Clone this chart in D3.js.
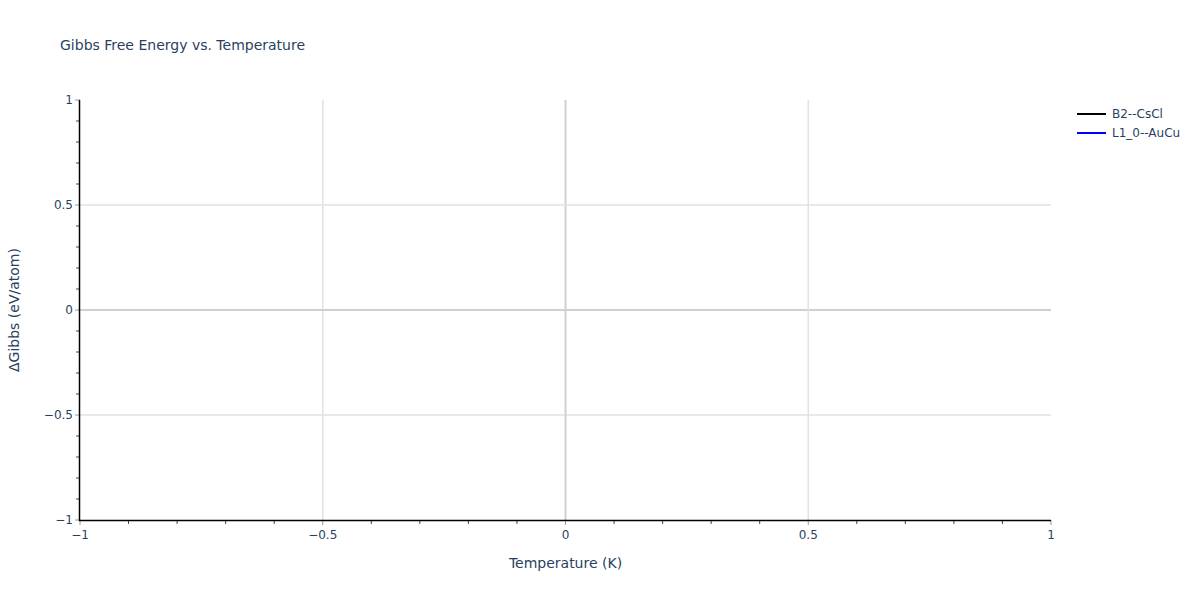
<!DOCTYPE html>
<html><head><meta charset="utf-8">
<script src="https://cdn.jsdelivr.net/npm/d3@7"></script>
<style>body{margin:0;background:#fff;} text{font-family:"DejaVu Sans",Verdana,sans-serif;}</style>
</head><body>
<svg id="c" width="1200" height="600"></svg>
<script>
const titleText = "Gibbs Free Energy vs. Temperature";
const xTitle = "Temperature (K)";
const yTitle = "ΔGibbs (eV/atom)";
const seriesNames = ["B2--CsCl", "L1_0--AuCu"];
const seriesColors = ["#000000", "#0000ff"];
const xDomain = [-1, 1];
const yDomain = [-1, 1];
const majorTicks = [-1, -0.5, 0, 0.5, 1];
const minorTicks = [-0.9,-0.8,-0.7,-0.6,-0.4,-0.3,-0.2,-0.1,0.1,0.2,0.3,0.4,0.6,0.7,0.8,0.9];
const seriesData = [[], []];

const svg = d3.select("#c");
const L = 80, R = 1051, T = 100, B = 520;
const x = d3.scaleLinear().domain(xDomain).range([L, R]);
const y = d3.scaleLinear().domain(yDomain).range([B, T]);
const fmt = d => d3.format("")(d).replace("-", "\u2212");
const col = "#2a3f5f";

// gridlines (interior ticks only)
const g = svg.append("g");
majorTicks.filter(t => t > xDomain[0] && t < xDomain[1]).forEach(t => {
  g.append("line").attr("x1", x(t)).attr("x2", x(t)).attr("y1", T).attr("y2", B)
    .attr("stroke", t === 0 ? "#d0d0d0" : "#e2e2e2").attr("stroke-width", t === 0 ? 2 : 1.5);
  g.append("line").attr("y1", y(t)).attr("y2", y(t)).attr("x1", L).attr("x2", R)
    .attr("stroke", t === 0 ? "#d0d0d0" : "#e2e2e2").attr("stroke-width", t === 0 ? 2 : 1.5);
});

// lines (empty series)
const line = d3.line().x(d => x(d[0])).y(d => y(d[1]));
seriesData.forEach((s, i) => {
  svg.append("path").datum(s).attr("d", line).attr("fill", "none").attr("stroke", seriesColors[i]).attr("stroke-width", 2);
});

// minor ticks
minorTicks.forEach(t => {
  svg.append("line").attr("x1", x(t)).attr("x2", x(t)).attr("y1", B).attr("y2", B + 4).attr("stroke", "#444").attr("stroke-width", 1);
  svg.append("line").attr("y1", y(t)).attr("y2", y(t)).attr("x1", L - 4).attr("x2", L).attr("stroke", "#444").attr("stroke-width", 1);
});
// major ticks
majorTicks.forEach(t => {
  svg.append("line").attr("x1", x(t)).attr("x2", x(t)).attr("y1", B).attr("y2", B + 5).attr("stroke", "#999").attr("stroke-width", 1);
  svg.append("line").attr("y1", y(t)).attr("y2", y(t)).attr("x1", L - 5).attr("x2", L).attr("stroke", "#999").attr("stroke-width", 1);
  svg.append("text").attr("x", x(t)).attr("y", B + 19).attr("text-anchor", "middle").attr("font-size", 12).attr("fill", col).text(fmt(t));
  svg.append("text").attr("x", L - 7).attr("y", y(t) + 4).attr("text-anchor", "end").attr("font-size", 12).attr("fill", col).text(fmt(t));
});

// axis lines
svg.append("line").attr("x1", L - 0.5).attr("x2", L - 0.5).attr("y1", T).attr("y2", B + 1).attr("stroke", "#000").attr("stroke-width", 1.5);
svg.append("line").attr("x1", L - 1).attr("x2", R).attr("y1", B + 0.5).attr("y2", B + 0.5).attr("stroke", "#000").attr("stroke-width", 1.5);

// titles
svg.append("text").attr("x", 60).attr("y", 50).attr("font-size", 14).attr("fill", col).text(titleText);
svg.append("text").attr("x", (L + R) / 2).attr("y", 568).attr("text-anchor", "middle").attr("font-size", 14).attr("fill", col).text(xTitle);
svg.append("text").attr("transform", `translate(19,${(T + B) / 2}) rotate(-90)`).attr("text-anchor", "middle").attr("font-size", 14).attr("fill", col).text(yTitle);

// legend
seriesNames.forEach((n, i) => {
  const ly = 114 + i * 19;
  svg.append("line").attr("x1", 1077).attr("x2", 1106).attr("y1", ly).attr("y2", ly).attr("stroke", seriesColors[i]).attr("stroke-width", 2);
  svg.append("text").attr("x", 1112).attr("y", ly + 4).attr("font-size", 12).attr("fill", col).text(n);
});
</script>
</body></html>
